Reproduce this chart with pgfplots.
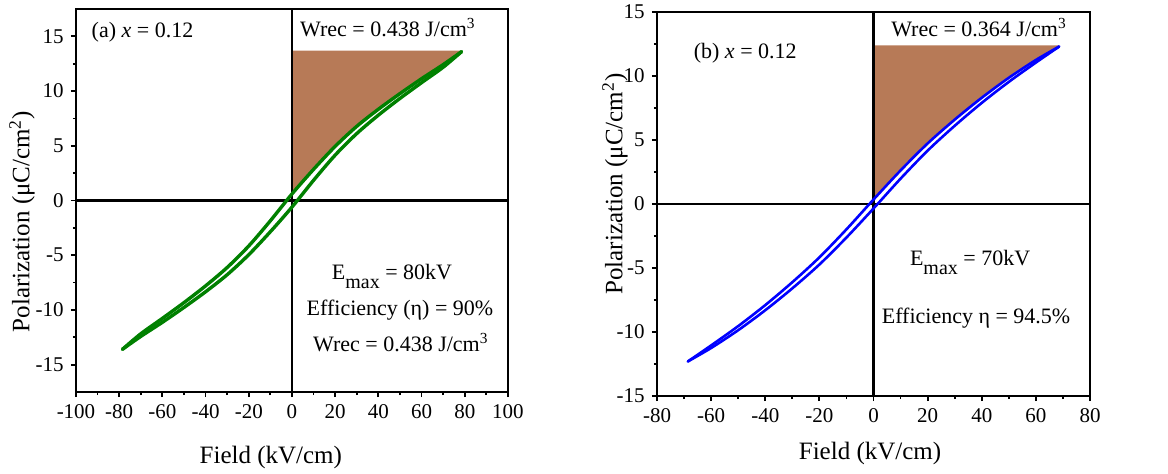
\documentclass[border=0pt]{standalone}
\usepackage{fontspec}
\setmainfont{Liberation Serif}
\usepackage{pgfplots}
\pgfplotsset{compat=1.18}

\definecolor{loopgreen}{RGB}{0,128,0}
\definecolor{loopblue}{RGB}{0,0,255}
\definecolor{wrecfill}{RGB}{183,122,87}

\newcommand{\Emax}{E\raisebox{-4.5pt}{\fontsize{10}{10}\selectfont max}}

\tikzset{annot/.style={font=\fontsize{11}{13}\selectfont}}

\pgfplotsset{
  peplot/.style={
    scale only axis,
    anchor=south west,
    axis line style={line width=1.1pt},
    every tick/.style={black, line width=0.9pt},
    major tick length=2.6pt, minor tick length=1.6pt,
    tick align=outside,
    xtick pos=bottom, ytick pos=left,
    minor x tick num=1, minor y tick num=1,
    ytick distance=5, xtick distance=20,
    /pgf/number format/assume math mode=true,
    tick label style={font=\fontsize{10.5}{12}\selectfont},
    label style={font=\fontsize{12.5}{14}\selectfont},
    clip=false,
  },
}

\begin{document}
\begin{tikzpicture}
\path[use as bounding box] (0,0) rectangle (584pt,-237pt);

% ---------- (a) ----------
\begin{axis}[peplot,
  at={(38pt,-196pt)}, width=216pt, height=191.5pt,
  xmin=-100, xmax=100, ymin=-17.5, ymax=17.5,
  ytick={-15,-10,-5,0,5,10,15},
  xlabel={Field (kV/cm)},
  ylabel={Polarization (μC/cm\textsuperscript{2})},
  xlabel style={at={(axis description cs:0.451,-0.17)}, anchor=center},
  ylabel style={at={(axis description cs:-0.125,0.445)}, anchor=center},
]
\addplot[draw=none, fill=wrecfill] coordinates {
  (0,13.7) (0,0.6) (10,2.85) (20,4.95) (30,6.78) (40,8.34) (50,9.77)
  (60,11.13) (70,12.42) (78.5,13.6) (78.5,13.7)} -- cycle;
\addplot[black, line width=1.1pt] coordinates {(-100,0) (100,0)};
\addplot[black, line width=1.1pt] coordinates {(0,-17.5) (0,17.5)};
% discharge branch
\addplot[loopgreen, line width=1.7pt, smooth, line cap=round] coordinates {
  (78.5,13.6) (70,12.42) (60,11.13) (50,9.77) (40,8.34) (30,6.78) (20,4.95)
  (10,2.85) (0,0.6) (-10,-1.85) (-20,-4.15) (-30,-6.12) (-40,-7.8)
  (-50,-9.33) (-60,-10.77) (-70,-12.18) (-78.5,-13.6)};
% charge branch
\addplot[loopgreen, line width=1.7pt, smooth, line cap=round] coordinates {
  (-78.5,-13.6) (-70,-12.42) (-60,-11.13) (-50,-9.77) (-40,-8.34) (-30,-6.78)
  (-20,-4.95) (-10,-2.85) (0,-0.6) (10,1.85) (20,4.15) (30,6.12) (40,7.8)
  (50,9.33) (60,10.77) (70,12.18) (78.5,13.6)};
\node[annot, anchor=west] at (axis cs:-96,15.4) {(a) \textit{x} = 0.12};
\node[annot] at (axis cs:44.4,15.8) {Wrec = 0.438 J/cm\textsuperscript{3}};
\node[annot] at (axis cs:46.3,-6.9) {\Emax{} = 80kV};
\node[annot] at (axis cs:50,-10.0) {Efficiency (η) = 90\%};
\node[annot] at (axis cs:50.4,-13.0) {Wrec = 0.438 J/cm\textsuperscript{3}};
\end{axis}

% ---------- (b) ----------
\begin{axis}[peplot,
  at={(328.5pt,-198pt)}, width=216.5pt, height=192pt,
  xmin=-80, xmax=80, ymin=-15, ymax=15,
  xlabel={Field (kV/cm)},
  ylabel={Polarization (μC/cm\textsuperscript{2})},
  xlabel style={at={(axis description cs:0.492,-0.151)}, anchor=center},
  ylabel style={at={(axis description cs:-0.097,0.552)}, anchor=center},
]
\addplot[draw=none, fill=wrecfill] coordinates {
  (0,12.4) (0,0.35) (10,2.62) (20,4.73) (30,6.59) (40,8.3) (50,9.86)
  (60,11.25) (68.6,12.3) (68.6,12.4)} -- cycle;
\addplot[black, line width=1.1pt] coordinates {(-80,0) (80,0)};
\addplot[black, line width=1.1pt] coordinates {(0,-15) (0,15)};
% discharge branch
\addplot[loopblue, line width=1.3pt, smooth, line cap=round] coordinates {
  (68.6,12.3) (60,11.25) (50,9.86) (40,8.3) (30,6.59) (20,4.73)
  (10,2.62) (0,0.35) (-10,-1.98) (-20,-4.17) (-30,-6.11) (-40,-7.9)
  (-50,-9.54) (-60,-11.05) (-68.6,-12.3)};
% charge branch
\addplot[loopblue, line width=1.3pt, smooth, line cap=round] coordinates {
  (-68.6,-12.3) (-60,-11.25) (-50,-9.86) (-40,-8.3) (-30,-6.59) (-20,-4.73)
  (-10,-2.62) (0,-0.35) (10,1.98) (20,4.17) (30,6.11) (40,7.9) (50,9.54)
  (60,11.05) (68.6,12.3)};
\node[annot, anchor=west] at (axis cs:-69,11.8) {(b) \textit{x} = 0.12};
\node[annot] at (axis cs:39,13.75) {Wrec = 0.364 J/cm\textsuperscript{3}};
\node[annot] at (axis cs:35.7,-4.6) {\Emax{} = 70kV};
\node[annot] at (axis cs:37.9,-8.9) {Efficiency η = 94.5\%};
\end{axis}
\end{tikzpicture}
\end{document}
